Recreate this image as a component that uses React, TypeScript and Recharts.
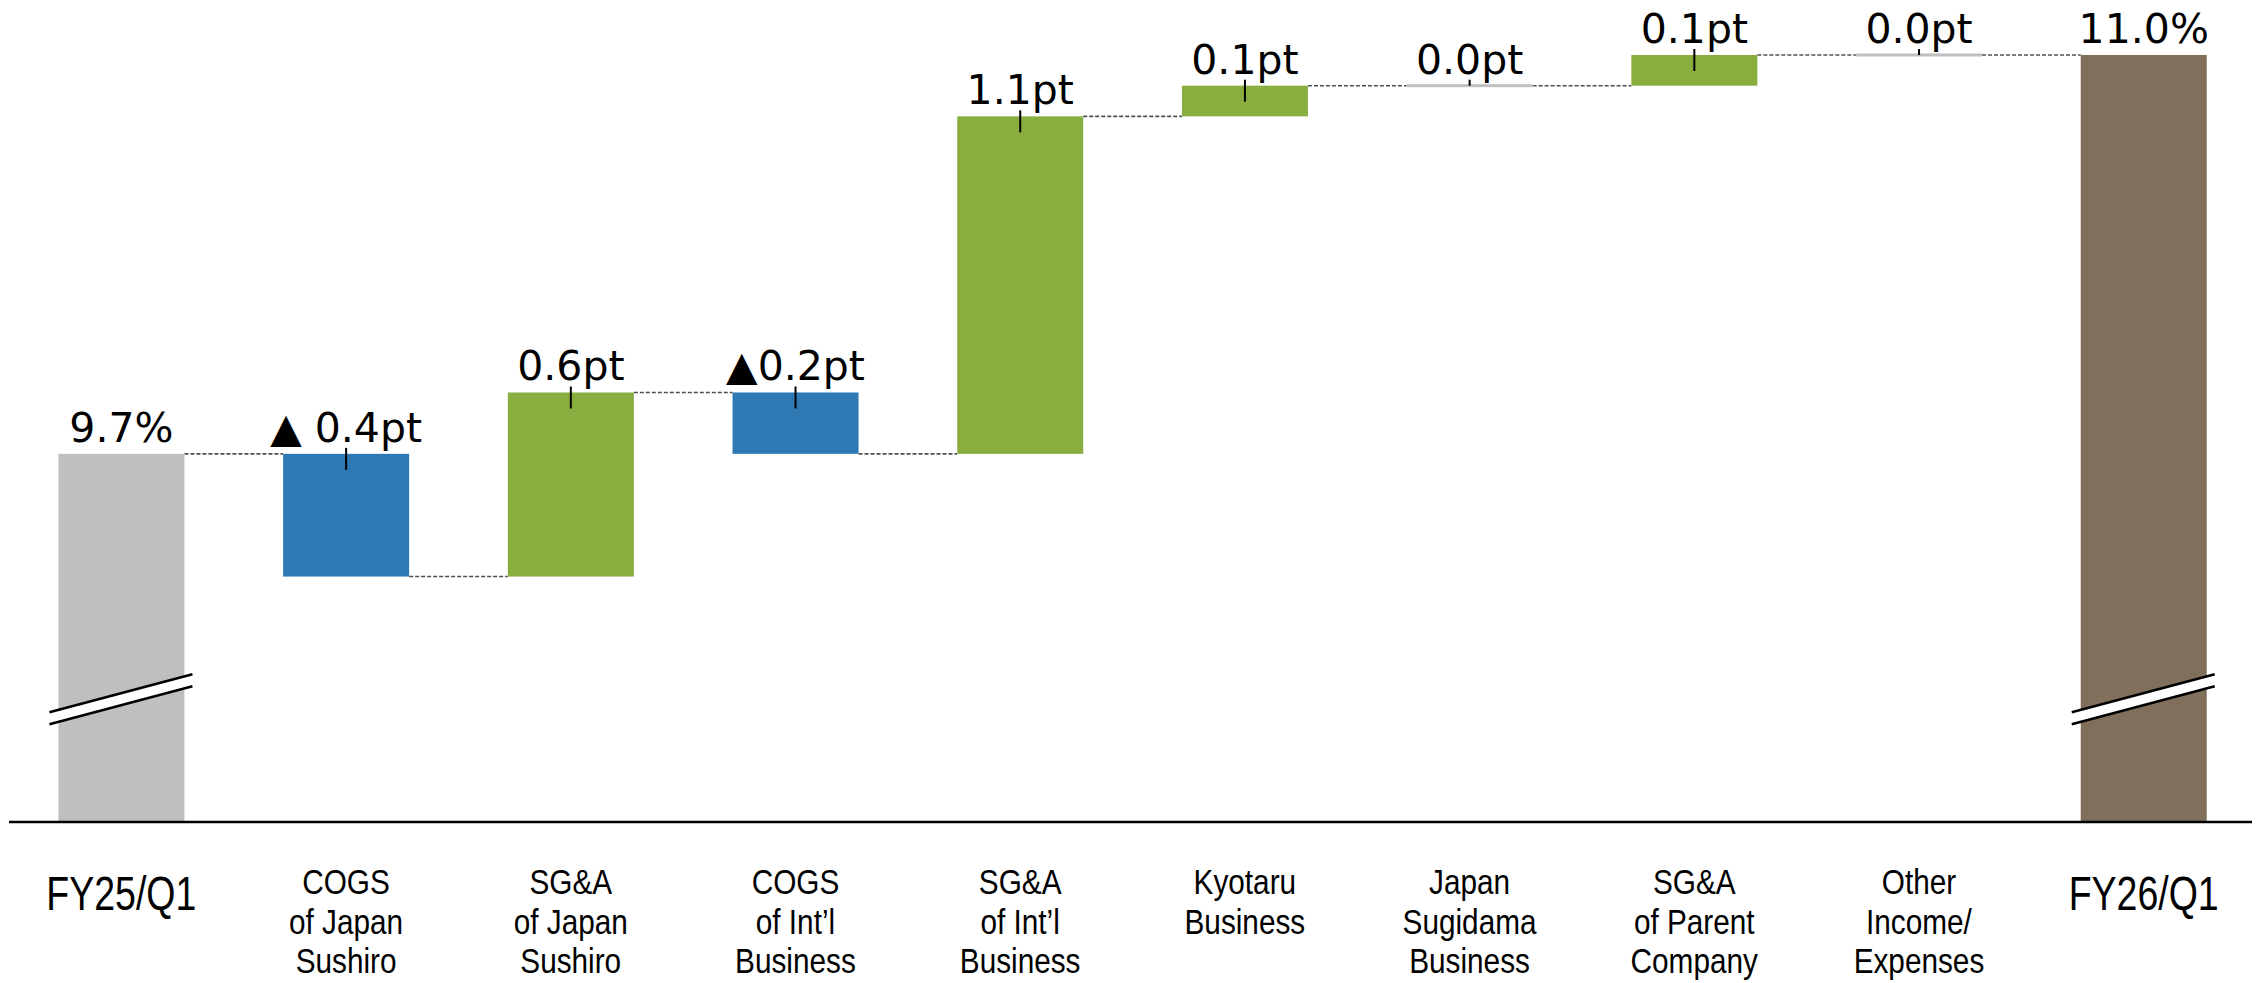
import { BarChart, Bar, XAxis, YAxis } from "recharts";

const categories = [
  "FY25/Q1",
  "COGS\nof Japan\nSushiro",
  "SG&A\nof Japan\nSushiro",
  "COGS\nof Int’l\nBusiness",
  "SG&A\nof Int’l\nBusiness",
  "Kyotaru\nBusiness",
  "Japan\nSugidama\nBusiness",
  "SG&A\nof Parent\nCompany",
  "Other\nIncome/\nExpenses",
  "FY26/Q1",
];
const startValue = 9.7;
const endValue = 11.0;
const changes = [-0.4, 0.6, -0.2, 1.1, 0.1, 0.0, 0.1, 0.0];
const valueLabels = ["9.7%", "▲ 0.4pt", "0.6pt", "▲0.2pt", "1.1pt", "0.1pt", "0.0pt", "0.1pt", "0.0pt", "11.0%"];

const Y_MIN = 8.5;
const Y_MAX = 11.0;
const AXIS_BREAK = 8.9;

// the svg is pulled up over the body margin so the top labels stay inside it
const CHART_W = 2252;
const CHART_H = 983;
const MARGIN = { top: 55, right: 4, left: 1, bottom: 0 };
const XAXIS_H = 161;
const PLOT_W = CHART_W - MARGIN.left - MARGIN.right;
const PLOT_H = CHART_H - MARGIN.top - MARGIN.bottom - XAXIS_H;
const PLOT_BOTTOM = CHART_H - MARGIN.bottom - XAXIS_H;
const BAND = PLOT_W / categories.length;
const PX_PER_UNIT = PLOT_H / (Y_MAX - Y_MIN);

const COLORS: Record<string, string> = {
  start: "#bfbfbf",
  end: "#7f6f5b",
  up: "#8aad3f",
  down: "#2e78b4",
  flat: "#bfbfbf",
};

type Kind = "start" | "end" | "up" | "down" | "flat";
interface Row {
  name: string;
  range: [number, number];
  kind: Kind;
  label: string;
}

let level = startValue;
const data: Row[] = categories.map((name, i) => {
  const label = valueLabels[i];
  if (i === 0) return { name, range: [Y_MIN, startValue], kind: "start", label };
  if (i === categories.length - 1) return { name, range: [Y_MIN, endValue], kind: "end", label };
  const d = changes[i - 1];
  const from = level;
  const to = Math.round((level + d) * 100) / 100;
  level = to;
  const kind: Kind = d > 0 ? "up" : d < 0 ? "down" : "flat";
  return { name, range: [Math.min(from, to), Math.max(from, to)], kind, label };
});

function WaterfallBar(props: any) {
  const { x, y, width, height, payload, index } = props;
  const kind: Kind = payload.kind;
  const cx = x + width / 2;
  const top = y;
  const bottom = y + height;
  const endY = kind === "down" ? bottom : top;
  const isTotal = kind === "start" || kind === "end";
  const last = index === data.length - 1;

  let breakMark = null;
  if (isTotal) {
    const yb = bottom - (AXIS_BREAK - Y_MIN) * PX_PER_UNIT;
    const L = x - 9;
    const R = x + width + 8;
    const uL = yb + 13, uR = yb - 25;
    const gap = 12;
    breakMark = (
      <g>
        <polygon points={`${L},${uL} ${R},${uR} ${R},${uR + gap} ${L},${uL + gap}`} fill="#fff" />
        <line x1={L} y1={uL} x2={R} y2={uR} stroke="#000" strokeWidth={2.5} />
        <line x1={L} y1={uL + gap} x2={R} y2={uR + gap} stroke="#000" strokeWidth={2.5} />
      </g>
    );
  }

  return (
    <g>
      {!last && (
        <line x1={x + width} y1={endY} x2={x + BAND} y2={endY}
          stroke="#505050" strokeWidth={1.6} strokeDasharray="4 2" />
      )}
      {kind === "flat" ? (
        <rect x={x} y={top - 1.5} width={width} height={3} fill={COLORS.flat} />
      ) : (
        <rect x={x} y={top} width={width} height={height} fill={COLORS[kind]} />
      )}
      {breakMark}
      {!isTotal && (
        <line x1={cx} y1={top - 6} x2={cx} y2={kind === "flat" ? top : top + 16}
          stroke="#000" strokeWidth={2} />
      )}
      <text x={cx} y={top - 12} textAnchor="middle" fontFamily="DejaVu Sans" fontSize={41} fill="#000">
        {payload.label}
      </text>
    </g>
  );
}

function CategoryTick(props: any) {
  const { x, payload } = props;
  const row = data[payload.index];
  const lines = String(payload.value).split("\n");
  if (row && (row.kind === "start" || row.kind === "end")) {
    return (
      <text transform={`translate(${x},${PLOT_BOTTOM + 88}) scale(0.765,1)`} textAnchor="middle"
        fontFamily="Liberation Sans, Arial" fontSize={49} fill="#000">
        {payload.value}
      </text>
    );
  }
  return (
    <g>
      {lines.map((l, k) => (
        <text key={k} transform={`translate(${x},${PLOT_BOTTOM + 72 + k * 39.5}) scale(0.85,1)`}
          textAnchor="middle" fontFamily="Liberation Sans, Arial" fontSize={35} fill="#000">
          {l}
        </text>
      ))}
    </g>
  );
}

export default function App() {
  return (
    <div style={{ width: CHART_W, height: CHART_H, marginTop: -8 }}>
      <BarChart width={CHART_W} height={CHART_H} data={data} margin={MARGIN} barCategoryGap="22%"
        style={{ overflow: "visible" }}>
        <XAxis dataKey="name" interval={0} tickLine={false} height={XAXIS_H}
          axisLine={{ stroke: "#000", strokeWidth: 2.5 }}
          tick={(p: any) => <CategoryTick {...p} />} />
        <YAxis hide domain={[Y_MIN, Y_MAX]} />
        <Bar dataKey="range" isAnimationActive={false} shape={(p: any) => <WaterfallBar {...p} />} />
      </BarChart>
    </div>
  );
}
